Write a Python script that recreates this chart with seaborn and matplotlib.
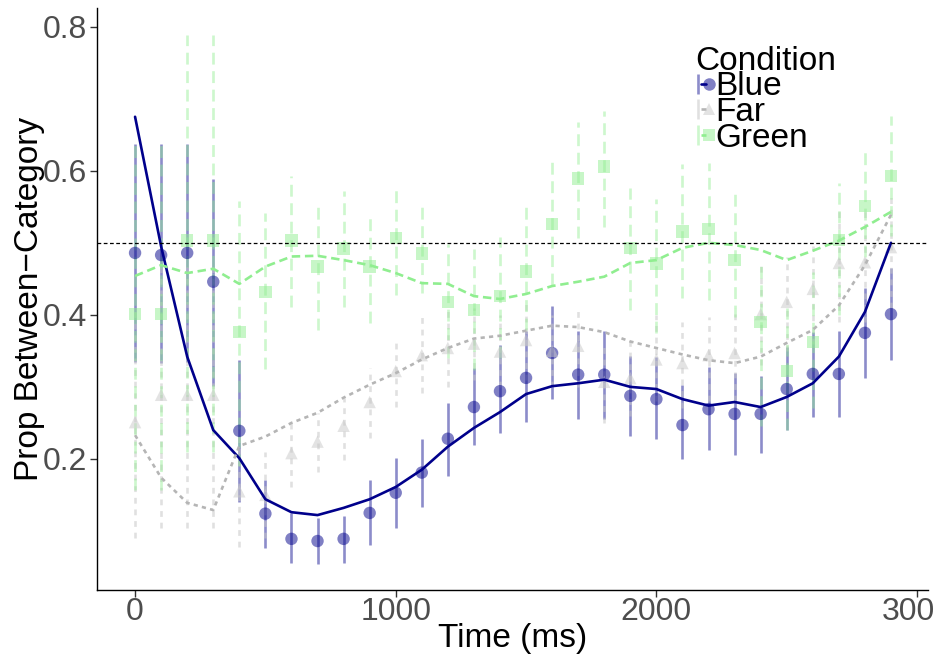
import matplotlib
matplotlib.use("Agg")
import numpy as np
import pandas as pd
import matplotlib.pyplot as plt
import seaborn as sns
from matplotlib.lines import Line2D
from matplotlib.legend_handler import HandlerTuple

# ---------------- data ----------------
time_ms = [0, 100, 200, 300, 400, 500, 600, 700, 800, 900,
           1000, 1100, 1200, 1300, 1400, 1500, 1600, 1700, 1800, 1900,
           2000, 2100, 2200, 2300, 2400, 2500, 2600, 2700, 2800, 2900]
conditions = ["Blue", "Far", "Green"]

blue_mean = [0.486, 0.483, 0.486, 0.446, 0.239, 0.124, 0.089, 0.086, 0.089, 0.125,
             0.153, 0.181, 0.228, 0.272, 0.294, 0.3125, 0.347, 0.317, 0.317, 0.2875,
             0.283, 0.247, 0.269, 0.2625, 0.2625, 0.297, 0.318, 0.318, 0.375, 0.401]
blue_lower = [0.335, 0.333, 0.335, 0.301, 0.140, 0.076, 0.056, 0.054, 0.056, 0.081,
              0.104, 0.133, 0.176, 0.219, 0.236, 0.251, 0.283, 0.256, 0.256, 0.232,
              0.228, 0.200, 0.2125, 0.206, 0.208, 0.240, 0.258, 0.258, 0.3125, 0.3375]
blue_upper = [0.6375, 0.6375, 0.6375, 0.589, 0.337, 0.171, 0.125, 0.118, 0.121, 0.171,
              0.201, 0.228, 0.278, 0.326, 0.358, 0.378, 0.4125, 0.378, 0.378, 0.343,
              0.341, 0.303, 0.328, 0.319, 0.315, 0.356, 0.376, 0.378, 0.4375, 0.465]
blue_fit = [0.675, 0.495, 0.342, 0.240, 0.201, 0.144, 0.126, 0.122, 0.132, 0.144,
            0.161, 0.185, 0.217, 0.243, 0.265, 0.290, 0.301, 0.305, 0.310, 0.300,
            0.297, 0.283, 0.274, 0.279, 0.272, 0.286, 0.305, 0.342, 0.404, 0.500]

far_mean = [0.251, 0.289, 0.289, 0.289, 0.155, 0.150, 0.208, 0.224, 0.246, 0.279,
            0.322, 0.344, 0.354, 0.360, 0.349, 0.365, 0.350, 0.357, 0.307, 0.312,
            0.338, 0.333, 0.344, 0.347, 0.401, 0.418, 0.436, 0.472, 0.473, 0.494]
far_lower = [0.090, 0.104, 0.104, 0.104, 0.078, 0.090, 0.161, 0.182, 0.199, 0.229,
             0.272, 0.292, 0.300, 0.310, 0.300, 0.310, 0.300, 0.300, 0.250, 0.260,
             0.280, 0.270, 0.280, 0.280, 0.330, 0.350, 0.360, 0.390, 0.390, 0.410]
far_upper = [0.410, 0.470, 0.470, 0.470, 0.230, 0.210, 0.250, 0.264, 0.285, 0.326,
             0.368, 0.400, 0.410, 0.410, 0.400, 0.420, 0.400, 0.410, 0.360, 0.370,
             0.400, 0.390, 0.397, 0.410, 0.470, 0.480, 0.495, 0.550, 0.550, 0.570]
far_fit = [0.233, 0.174, 0.139, 0.129, 0.218, 0.231, 0.250, 0.264, 0.285, 0.303,
           0.319, 0.338, 0.354, 0.367, 0.371, 0.378, 0.385, 0.383, 0.376, 0.363,
           0.354, 0.345, 0.337, 0.333, 0.342, 0.361, 0.379, 0.413, 0.469, 0.539]

green_mean = [0.401, 0.401, 0.503, 0.503, 0.376, 0.432, 0.503, 0.467, 0.492, 0.467,
              0.507, 0.485, 0.418, 0.407, 0.426, 0.460, 0.526, 0.589, 0.606, 0.493,
              0.471, 0.516, 0.519, 0.476, 0.390, 0.322, 0.3625, 0.504, 0.551, 0.593]
green_lower = [0.157, 0.157, 0.210, 0.210, 0.190, 0.325, 0.411, 0.379, 0.411, 0.389,
               0.428, 0.430, 0.340, 0.324, 0.340, 0.379, 0.442, 0.507, 0.522, 0.407,
               0.375, 0.424, 0.421, 0.397, 0.245, 0.240, 0.270, 0.400, 0.480, 0.510]
green_upper = [0.640, 0.640, 0.789, 0.789, 0.558, 0.542, 0.593, 0.554, 0.572, 0.5375,
               0.576, 0.557, 0.499, 0.492, 0.508, 0.550, 0.614, 0.668, 0.683, 0.576,
               0.561, 0.610, 0.611, 0.568, 0.472, 0.410, 0.460, 0.583, 0.633, 0.676]
green_fit = [0.454, 0.469, 0.458, 0.464, 0.443, 0.467, 0.481, 0.482, 0.476, 0.469,
             0.458, 0.444, 0.443, 0.426, 0.422, 0.429, 0.440, 0.446, 0.453, 0.472,
             0.476, 0.493, 0.500, 0.497, 0.490, 0.476, 0.489, 0.503, 0.522, 0.543]

x_ticks = [0, 1000, 2000, 3000]
y_ticks = [0.2, 0.4, 0.6, 0.8]
x_tick_labels = ["0", "1000", "2000", "3000"]
y_tick_labels = ["0.2", "0.4", "0.6", "0.8"]
chance_level = 0.5

# ---------------- table ----------------
frames = []
for cond, m, lo, hi, fit in [("Blue", blue_mean, blue_lower, blue_upper, blue_fit),
                             ("Far", far_mean, far_lower, far_upper, far_fit),
                             ("Green", green_mean, green_lower, green_upper, green_fit)]:
    frames.append(pd.DataFrame({"time": time_ms, "condition": cond, "mean": m,
                                "lower": lo, "upper": hi, "fit": fit}))
df = pd.concat(frames, ignore_index=True)

# ---------------- style ----------------
sns.set_theme(style="white")
plt.rcParams["font.family"] = ["Liberation Sans", "DejaVu Sans"]
plt.rcParams["text.color"] = "black"

point_colors = {"Blue": "#00008B", "Far": "#C8C8C8", "Green": "#90EE90"}
line_colors = {"Blue": "#00008B", "Far": "#B5B5B5", "Green": "#90EE90"}
bar_colors = {"Blue": "#00008B", "Far": "#C8C8C8", "Green": "#90EE90"}
bar_alpha = {"Blue": 0.45, "Far": 0.55, "Green": 0.45}
bar_styles = {"Blue": "solid", "Far": (0, (2.2, 2.2)), "Green": (0, (4.5, 2.5))}
markers = {"Blue": "o", "Far": "^", "Green": "s"}
dashes = {"Blue": "", "Far": (1.6, 1.6), "Green": (3.2, 1.8)}

fig = plt.figure(figsize=(9.33, 6.57), dpi=100)
ax = fig.add_axes([97 / 933, 1 - 590 / 657, (928 - 97) / 933, (590 - 8) / 657])

# error bars
for cond in conditions:
    sub = df[df["condition"] == cond]
    ax.vlines(sub["time"], sub["lower"], sub["upper"], colors=bar_colors[cond],
              linestyles=bar_styles[cond], linewidth=1.9, alpha=bar_alpha[cond], zorder=2)

# points
sns.scatterplot(data=df, x="time", y="mean", hue="condition", style="condition",
                palette=point_colors, markers=markers, s=80, alpha=0.5,
                linewidth=0, legend=False, ax=ax, zorder=3)

# fitted lines
sns.lineplot(data=df, x="time", y="fit", hue="condition", style="condition",
             palette=line_colors, dashes=dashes, linewidth=1.9, legend=False,
             ax=ax, zorder=4)

ax.axhline(chance_level, color="black", linestyle=(0, (3, 2)), linewidth=0.9, zorder=5)

ax.set_xlim(-146, 3042)
ax.set_ylim(0.018, 0.826)
ax.set_xticks(x_ticks)
ax.set_xticklabels(x_tick_labels)
ax.set_yticks(y_ticks)
ax.set_yticklabels(y_tick_labels)
ax.tick_params(axis="both", labelsize=23, labelcolor="#4D4D4D", color="#333333",
               length=5, width=1, direction="out", bottom=True, left=True, pad=2)
ax.tick_params(axis="x", pad=0)
ax.set_xlabel("Time (ms)", fontsize=24, color="black")
ax.set_ylabel("Prop Between\u2212Category", fontsize=24, color="black")
ax.xaxis.set_label_coords(0.5, -0.057)
ax.yaxis.set_label_coords(-0.062, 0.5)

for side in ["top", "right"]:
    ax.spines[side].set_visible(False)
for side in ["left", "bottom"]:
    ax.spines[side].set_color("black")
    ax.spines[side].set_linewidth(1.0)
ax.grid(False)

# legend
handles = []
for cond in conditions:
    hl = Line2D([], [], color=line_colors[cond], linewidth=1.9,
                linestyle="-" if cond == "Blue" else (0, (2, 1.5)))
    vb = Line2D([], [], color=bar_colors[cond], alpha=bar_alpha[cond], marker="|",
                markersize=15, markeredgewidth=1.9, linestyle="None")
    pt = Line2D([], [], color=point_colors[cond], alpha=0.5, marker=markers[cond],
                markersize=9, markeredgewidth=0, linestyle="None")
    handles.append((vb, hl, pt))
leg = ax.legend(handles, conditions, title="Condition", loc="upper left",
                bbox_to_anchor=(0.704, 0.958), frameon=False, fontsize=24,
                title_fontsize=24, handlelength=0.5, handletextpad=0.1,
                labelspacing=-0.16, borderaxespad=0,
                handler_map={tuple: HandlerTuple(ndivide=None, pad=0)})
leg._legend_box.align = "left"
leg.get_title().set_color("black")
for t in leg.get_texts():
    t.set_color("black")

fig.savefig("out.png", dpi=100)
